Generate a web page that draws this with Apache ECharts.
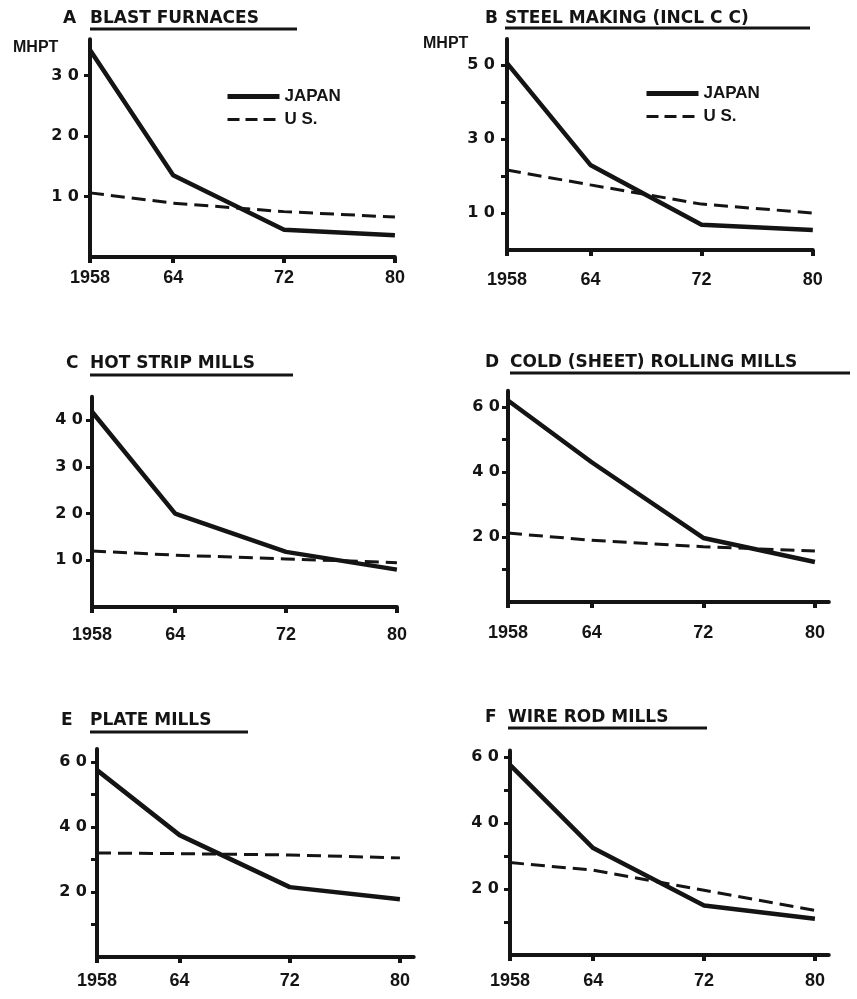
<!DOCTYPE html>
<html>
<head>
<meta charset="utf-8">
<script src="https://cdn.jsdelivr.net/npm/echarts@6/dist/echarts.min.js"></script>
<style>
  html, body { margin: 0; padding: 0; background: #fff; }
  #chart { width: 857px; height: 999px; }
</style>
</head>
<body>
<div id="chart"></div>
<script>
// years on the x axis and their printed labels
const years = [1958, 1964, 1972, 1980];
const yearLabels = ['1958', '64', '72', '80'];

// man-hours per ton
const blastJapan = [3.42, 1.35, 0.45, 0.36];
const blastUS = [1.06, 0.89, 0.75, 0.66];
const steelJapan = [5.05, 2.3, 0.68, 0.54];
const steelUS = [2.16, 1.76, 1.24, 1.0];
const hotStripJapan = [4.18, 2.0, 1.18, 0.8];
const hotStripUS = [1.2, 1.11, 1.03, 0.95];
const coldRollJapan = [6.2, 4.3, 1.97, 1.23];
const coldRollUS = [2.12, 1.9, 1.7, 1.57];
const plateJapan = [5.75, 3.75, 2.15, 1.78];
const plateUS = [3.2, 3.18, 3.14, 3.05];
const wireRodJapan = [5.76, 3.24, 1.5, 1.1];
const wireRodUS = [2.8, 2.57, 1.96, 1.35];

// panel titles and y axis ticks / labels
const titles = ['BLAST FURNACES', 'STEEL MAKING (INCL C C)', 'HOT STRIP MILLS',
                'COLD (SHEET) ROLLING MILLS', 'PLATE MILLS', 'WIRE ROD MILLS'];
const letters = ['A', 'B', 'C', 'D', 'E', 'F'];
const yTicks = [[1, 2, 3], [1, 2, 3, 4, 5], [1, 2, 3, 4], [1, 2, 3, 4, 5, 6], [1, 2, 3, 4, 5, 6], [1, 2, 3, 4, 5, 6]];
const yLabels = [[1, 2, 3], [1, 3, 5], [1, 2, 3, 4], [2, 4, 6], [2, 4, 6], [2, 4, 6]];
const yMax = [3.6, 5.7, 4.5, 6.5, 6.4, 6.2];

const japan = [blastJapan, steelJapan, hotStripJapan, coldRollJapan, plateJapan, wireRodJapan];
const us = [blastUS, steelUS, hotStripUS, coldRollUS, plateUS, wireRodUS];

// layout of each panel (pixel placement only)
const layout = [
  { left: 90, y0: 257, ppu: 60.5, ppy: 13.86, xMax: 1980, xm: 12, ym: 11, tx: 90, ty: 10, lx: 63, ux: [90, 297], uy: 29 },
  { left: 507, y0: 250, ppu: 37, ppy: 13.9, xMax: 1980, xm: 21, ym: 12, tx: 505, ty: 10, lx: 485, ux: [505, 810], uy: 28 },
  { left: 92, y0: 607, ppu: 46.7, ppy: 13.86, xMax: 1980, xm: 19, ym: 9, tx: 90, ty: 355, lx: 66, ux: [90, 293], uy: 375 },
  { left: 508, y0: 602, ppu: 32.5, ppy: 13.95, xMax: 1981, xm: 22, ym: 8, tx: 510, ty: 354, lx: 485, ux: [510, 850], uy: 373 },
  { left: 97, y0: 957, ppu: 32.5, ppy: 13.77, xMax: 1981, xm: 15, ym: 10, tx: 90, ty: 712, lx: 61, ux: [90, 248], uy: 732 },
  { left: 510, y0: 955, ppu: 33, ppy: 13.86, xMax: 1981, xm: 17, ym: 11, tx: 508, ty: 709, lx: 485, ux: [508, 707], uy: 728 }
];

const INK = '#141414';
const FONT = 'Liberation Sans';

let grid = [], xAxis = [], yAxis = [], series = [], title = [], graphic = [];

layout.forEach(function (p, i) {
  const h = yMax[i] * p.ppu;
  grid.push({ left: p.left, top: p.y0 - h, width: (p.xMax - 1958) * p.ppy, height: h });
  xAxis.push({
    type: 'value', gridIndex: i, min: 1958, max: p.xMax,
    splitLine: { show: false },
    axisLine: { lineStyle: { color: INK, width: 4 } },
    axisTick: { customValues: years, length: 6, lineStyle: { color: INK, width: 4 } },
    axisLabel: {
      customValues: years, margin: p.xm, color: INK,
      fontFamily: FONT, fontWeight: 'bold', fontSize: 18,
      formatter: function (v) { return yearLabels[years.indexOf(v)]; }
    }
  });
  yAxis.push({
    type: 'value', gridIndex: i, min: 0, max: yMax[i],
    splitLine: { show: false },
    axisLine: { show: true, lineStyle: { color: INK, width: 4 } },
    axisTick: { customValues: yTicks[i], length: 6, lineStyle: { color: INK, width: 3 } },
    axisLabel: {
      customValues: yLabels[i], margin: p.ym, color: INK,
      fontFamily: 'DejaVu Sans', fontWeight: 'bold', fontSize: 16,
      formatter: function (v) { return v.toFixed(1).replace('.', ' '); }
    }
  });
  series.push({
    name: 'JAPAN', type: 'line', xAxisIndex: i, yAxisIndex: i,
    data: years.map(function (y, k) { return [y, japan[i][k]]; }),
    symbol: 'none', lineStyle: { color: INK, width: 4.5 }, itemStyle: { color: INK },
    silent: true
  });
  series.push({
    name: 'U S.', type: 'line', xAxisIndex: i, yAxisIndex: i,
    data: years.map(function (y, k) { return [y, us[i][k]]; }),
    symbol: 'none', lineStyle: { color: INK, width: 3, type: [14, 7] }, itemStyle: { color: INK },
    silent: true
  });
  title.push({
    text: letters[i], left: p.lx, top: p.ty, padding: 0,
    textStyle: { fontFamily: 'DejaVu Sans', fontWeight: 'bold', fontSize: 17, color: INK }
  });
  title.push({
    text: titles[i], left: p.tx, top: p.ty, padding: 0,
    textStyle: { fontFamily: 'DejaVu Sans', fontWeight: 'bold', fontSize: 17, color: INK }
  });
  graphic.push({
    type: 'line', silent: true,
    shape: { x1: p.ux[0], y1: p.uy, x2: p.ux[1], y2: p.uy },
    style: { stroke: INK, lineWidth: 3 }
  });
});

// unit labels on the top two panels
title.push({ text: 'MHPT', left: 13, top: 40, padding: 0,
  textStyle: { fontFamily: FONT, fontWeight: 'bold', fontSize: 16, color: INK } });
title.push({ text: 'MHPT', left: 423, top: 36, padding: 0,
  textStyle: { fontFamily: FONT, fontWeight: 'bold', fontSize: 16, color: INK } });

const legendStyle = {
  orient: 'vertical', itemWidth: 52, itemHeight: 14, itemGap: 6, padding: 0,
  selectedMode: false,
  itemStyle: { opacity: 0 },
  textStyle: { fontFamily: FONT, fontWeight: 'bold', fontSize: 17, color: INK },
  data: [
    { name: 'JAPAN', lineStyle: { width: 5, color: INK } },
    { name: 'U S.', lineStyle: { width: 3, type: [12, 6], color: INK } }
  ]
};

let myChart = echarts.init(document.getElementById('chart'));
myChart.setOption({
  backgroundColor: '#ffffff',
  animation: false,
  title: title,
  legend: [
    Object.assign({ left: 225, top: 88 }, legendStyle),
    Object.assign({ left: 644, top: 85 }, legendStyle)
  ],
  grid: grid,
  xAxis: xAxis,
  yAxis: yAxis,
  series: series,
  graphic: graphic
});
</script>
</body>
</html>
